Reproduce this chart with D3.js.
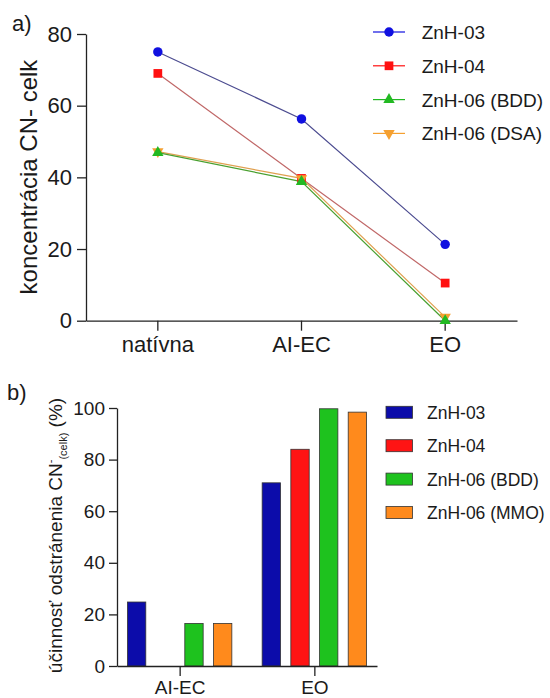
<!DOCTYPE html>
<html>
<head>
<meta charset="utf-8">
<script src="https://cdn.jsdelivr.net/npm/d3@7"></script>
<style>
	body { margin: 0; background: #fff; }
	text { font-family: "Liberation Sans", Arial, sans-serif; fill: #1a1a1a; }
</style>
</head>
<body>
<script>
// panel a data
let catsA = 	['natívna', 'AI-EC', 'EO']
let namesA = 	['ZnH-03', 'ZnH-04', 'ZnH-06 (BDD)', 'ZnH-06 (DSA)']
let zn03 = 	[75, 56.3, 21.3]
let zn04 = 	[69, 39.7, 10.5]
let zn06bdd = 	[46.9, 38.8, 0]
let zn06dsa = 	[47.2, 39.7, 1]
let ticksA = 	[0, 20, 40, 60, 80]

// panel b data
let catsB = 	['AI-EC', 'EO']
let namesB = 	['ZnH-03', 'ZnH-04', 'ZnH-06 (BDD)', 'ZnH-06 (MMO)']
let eff03 = 	[24.8, 71]
let eff04 = 	[0, 84]
let eff06bdd = 	[16.5, 99.7]
let eff06mmo = 	[16.5, 98.4]
let ticksB = 	[0, 20, 40, 60, 80, 100]

let markColors = 	['#1010e0', '#ff1010', '#22b922', '#f5a030']
let lineColors = 	['#4c4c90', '#c06868', '#4aa030', '#e0a050']
let symbols = 	[d3.symbolCircle, d3.symbolSquare, d3.symbolTriangle, d3.symbolTriangle]
let symSizes = 	[70, 76, 56, 56]
let barColors = 	['#0c0caa', '#ff1414', '#1ec21e', '#ff8a1c']

let svg = d3.select('body').append('svg')
	.attr('width', 550).attr('height', 698)

let axisStyle = function(g) {
	g.select('.domain').attr('stroke', '#222').attr('stroke-width', 1.3)
	g.selectAll('.tick line').attr('stroke', '#222').attr('stroke-width', 1.3)
	g.selectAll('.tick text').attr('fill', '#1a1a1a')
}

// ---------- a) line chart ----------
let xA = d3.scaleBand().domain(catsA).range([86, 517])
let yA = d3.scaleLinear().domain([0, 80]).range([320.7, 34])

svg.append('g')
	.attr('transform', 'translate(0,320.7)')
	.call(d3.axisBottom(xA).tickSize(10).tickPadding(6).tickSizeOuter(0))
	.call(axisStyle)
	.selectAll('text').style('font-size', '22px')

svg.append('g')
	.attr('transform', 'translate(86,0)')
	.call(d3.axisLeft(yA).tickValues(ticksA).tickSize(9).tickPadding(5).tickSizeOuter(0))
	.call(axisStyle)
	.selectAll('text').style('font-size', '22px')

svg.append('text')
	.attr('transform', 'translate(37,177) rotate(-90)')
	.attr('text-anchor', 'middle')
	.style('font-size', '24px')
	.text('koncentrácia CN- celk')

svg.append('text').attr('x', 12).attr('y', 31)
	.style('font-size', '22px').text('a)')

let seriesA = [zn03, zn04, zn06bdd, zn06dsa]
let order = [0, 1, 3, 2]
let line = d3.line()
	.x((d, i) => xA(catsA[i]) + xA.bandwidth()/2)
	.y(d => yA(d))

for (let k of order) {
	svg.append('path')
		.datum(seriesA[k])
		.attr('d', line)
		.attr('fill', 'none')
		.attr('stroke', lineColors[k])
		.attr('stroke-width', 1.2)
}
for (let k of order) {
	let sym = d3.symbol().type(symbols[k]).size(symSizes[k])
	svg.selectAll(null)
		.data(seriesA[k]).enter().append('path')
		.attr('d', sym)
		.attr('transform', (d, i) => `translate(${xA(catsA[i]) + xA.bandwidth()/2},${yA(d)})` + (k == 3 ? ' rotate(180)' : ''))
		.attr('fill', markColors[k])
}

// legend a
let legA = svg.append('g').attr('transform', 'translate(373,32)')
namesA.forEach(function(n, k) {
	let row = legA.append('g').attr('transform', `translate(0,${k*33.8})`)
	row.append('line')
		.attr('x1', 0).attr('x2', 32).attr('y1', 0).attr('y2', 0)
		.attr('stroke', markColors[k]).attr('stroke-width', 1.2)
	row.append('path')
		.attr('d', d3.symbol().type(symbols[k]).size(symSizes[k]))
		.attr('transform', 'translate(16,0)' + (k == 3 ? ' rotate(180)' : ''))
		.attr('fill', markColors[k])
	row.append('text')
		.attr('x', 48.7).attr('y', 7)
		.style('font-size', '19px')
		.text(n)
})

// ---------- b) bar chart ----------
let xB = d3.scalePoint().domain(catsB).range([117, 377]).padding(0.465)
let xInner = d3.scaleBand().domain(namesB).range([-52.2, 52.2]).paddingInner(0.36)
let yB = d3.scaleLinear().domain([0, 100]).range([666, 408])

let seriesB = [eff03, eff04, eff06bdd, eff06mmo]
namesB.forEach(function(n, k) {
	let rows = seriesB[k].map((v, i) => ({cat: catsB[i], v: v})).filter(d => d.v > 0)
	svg.selectAll(null)
		.data(rows).enter().append('rect')
		.attr('x', d => xB(d.cat) + xInner(n))
		.attr('y', d => yB(d.v))
		.attr('width', xInner.bandwidth())
		.attr('height', d => yB(0) - yB(d.v))
		.attr('fill', barColors[k])
		.attr('stroke', '#333').attr('stroke-width', 0.8)
})

svg.append('g')
	.attr('transform', 'translate(0,666)')
	.call(d3.axisBottom(xB).tickSize(10).tickPadding(5).tickSizeOuter(0))
	.call(axisStyle)
	.selectAll('text').style('font-size', '19px')

svg.append('g')
	.attr('transform', 'translate(117,0)')
	.call(d3.axisLeft(yB).tickValues(ticksB).tickSize(8).tickPadding(4).tickSizeOuter(0))
	.call(axisStyle)
	.selectAll('text').style('font-size', '19px')

let titleB = svg.append('text')
	.attr('transform', 'translate(62,535.5) rotate(-90)')
	.attr('text-anchor', 'middle')
	.style('font-size', '19px')
titleB.append('tspan').text('účinnosť odstránenia CN')
titleB.append('tspan').attr('dy', -8).style('font-size', '11px').text('-')
titleB.append('tspan').attr('dy', 13).style('font-size', '11px').text('(celk)')
titleB.append('tspan').attr('dy', -5).text(' (%)')

svg.append('text').attr('x', 7).attr('y', 400)
	.style('font-size', '22px').text('b)')

// legend b
let legB = svg.append('g').attr('transform', 'translate(386,412.3)')
namesB.forEach(function(n, k) {
	let row = legB.append('g').attr('transform', `translate(0,${k*33.4})`)
	row.append('rect')
		.attr('x', 0).attr('y', -6).attr('width', 26.5).attr('height', 12)
		.attr('fill', barColors[k])
		.attr('stroke', '#333').attr('stroke-width', 0.8)
	row.append('text')
		.attr('x', 41).attr('y', 6.5)
		.style('font-size', '17.5px')
		.text(n)
})
</script>
</body>
</html>
